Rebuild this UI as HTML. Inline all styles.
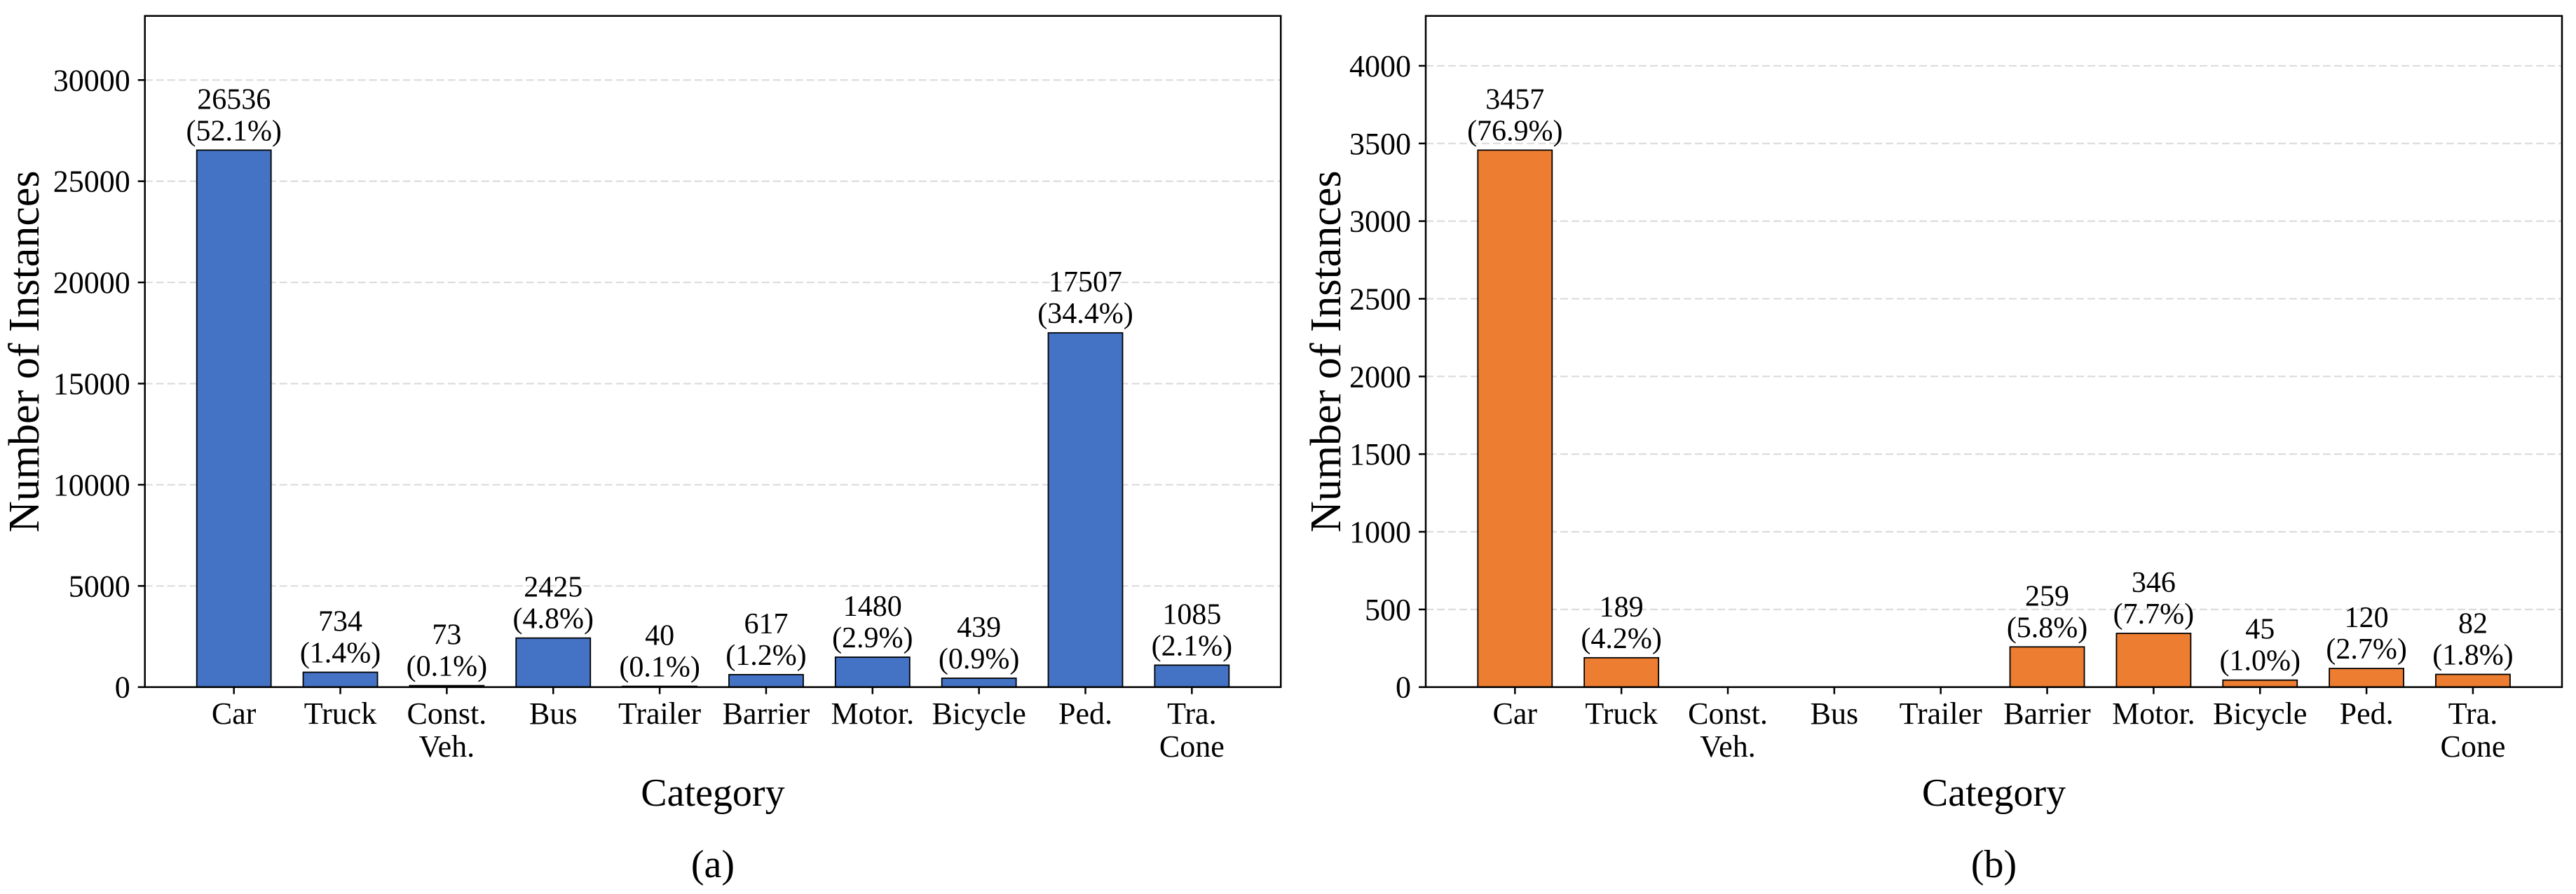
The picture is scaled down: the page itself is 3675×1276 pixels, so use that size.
<!DOCTYPE html>
<html><head><meta charset="utf-8"><style>
html,body{margin:0;padding:0;background:#fff;}
svg{display:block;font-family:"Liberation Serif","DejaVu Serif",serif;}
</style></head><body>
<svg id="chart" width="3675" height="1276" viewBox="0 0 3675 1276" xmlns="http://www.w3.org/2000/svg"></svg>
<script>
const categories = ["Car","Truck","Const.\nVeh.","Bus","Trailer","Barrier","Motor.","Bicycle","Ped.","Tra.\nCone"];
const valuesA = [26536,734,73,2425,40,617,1480,439,17507,1085];
const pctA = ["52.1%","1.4%","0.1%","4.8%","0.1%","1.2%","2.9%","0.9%","34.4%","2.1%"];
const ticksA = [0,5000,10000,15000,20000,25000,30000];
const valuesB = [3457,189,0,0,0,259,346,45,120,82];
const pctB = ["76.9%","4.2%","","","","5.8%","7.7%","1.0%","2.7%","1.8%"];
const ticksB = [0,500,1000,1500,2000,2500,3000,3500,4000];

const NS="http://www.w3.org/2000/svg";
const svg=document.getElementById('chart');
function mk(tag,attrs,parent){const e=document.createElementNS(NS,tag);for(const k in attrs)e.setAttribute(k,attrs[k]);(parent||svg).appendChild(e);return e;}

function panel(opt){
  const g=mk('g',{});
  
  
  const L=opt.left,R=opt.right,T=22.7,B=980.7;
  const ymax=Math.max(...opt.values)*1.25;
  const y=v=>B-(v/ymax)*(B-T);
  const x=i=>opt.first+i*151.85;
  const bw=106;
  opt.ticks.forEach(t=>{
    if(t>0){const gl=mk('line',{x1:L,x2:R,y1:y(t),y2:y(t),stroke:'#dcdcdc','stroke-width':2.2,'stroke-dasharray':'11,5'},g);
      
      }
    const tk=mk('line',{x1:L-10,x2:L,y1:y(t),y2:y(t),stroke:'#000','stroke-width':2.5},g);
    
    
    const tl=mk('text',{x:L-21,y:y(t)+15,'text-anchor':'end','font-size':44},g);
    tl.textContent=t;
    
    
  });
  opt.values.forEach((v,i)=>{
    const cx=x(i);
    if(v>0){
      const r=mk('rect',{x:cx-bw/2,y:y(v),width:bw,height:B-y(v),fill:opt.color,stroke:'#000','stroke-width':1.8},g);
      
      
      const t1=mk('text',{x:cx,y:y(v)-59,'text-anchor':'middle','font-size':42},g);
      t1.textContent=v;
      
      
      const t2=mk('text',{x:cx,y:y(v)-14,'text-anchor':'middle','font-size':42},g);
      t2.textContent='('+opt.pct[i]+')';
      
      
    }
    const tk=mk('line',{x1:cx,x2:cx,y1:B,y2:B+10,stroke:'#000','stroke-width':2.5},g);
    
    
    categories[i].split('\n').forEach((ln,j)=>{
      const tl=mk('text',{x:cx,y:1033+j*47,'text-anchor':'middle','font-size':44},g);
      tl.textContent=ln;
      
      
    });
  });
  const fr=mk('rect',{x:L,y:T,width:R-L,height:B-T,fill:'none',stroke:'#000','stroke-width':2.5},g);
  
  
  const yl=mk('text',{x:0,y:0,'text-anchor':'middle','font-size':62,transform:`translate(${opt.ylx},${(T+B)/2}) rotate(-90)`},g);
  yl.textContent='Number of Instances';
  
  
  const xl=mk('text',{x:(L+R)/2,y:1150,'text-anchor':'middle','font-size':56},g);
  xl.textContent='Category';
  
  
  const cap=mk('text',{x:(L+R)/2,y:1252,'text-anchor':'middle','font-size':56},g);
  cap.textContent=opt.caption;
  
  
}
panel({name:'panel-a',left:206.7,right:1827.2,first:333.7,values:valuesA,pct:pctA,ticks:ticksA,color:'#4472C4',ylx:55,caption:'(a)'});
panel({name:'panel-b',left:2034,right:3655,first:2161.3,values:valuesB,pct:pctB,ticks:ticksB,color:'#ED7D31',ylx:1912,caption:'(b)'});
</script>
</body></html>
